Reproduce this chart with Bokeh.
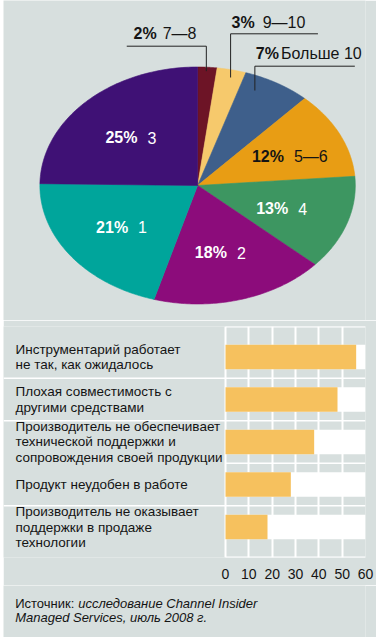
import numpy as np
from bokeh.plotting import figure
from bokeh.layouts import column, row
from bokeh.models import Range1d, FixedTicker, Spacer
from bokeh.core.properties import value
from bokeh.embed import file_html
from bokeh.resources import INLINE

# ---------------- data ----------------
# pie slices, clockwise from 12 o'clock
pie_groups = ["7—8", "9—10", "Больше 10", "5—6", "4", "2", "1", "3"]
pie_shares = [2, 3, 7, 12, 13, 18, 21, 25]
pie_colors = ["#6d1426", "#f6c96c", "#3e5f8b", "#e89d14",
              "#3d9661", "#8c0c7b", "#00a59b", "#3f1175"]

bar_reasons = [
    "Инструментарий работает\nне так, как ожидалось",
    "Плохая совместимость с\nдругими средствами",
    "Производитель не обеспечивает\nтехнической поддержки и\nсопровождения своей продукции",
    "Продукт неудобен в работе",
    "Производитель не оказывает\nподдержки в продаже\nтехнологии",
]
bar_values = [56, 48, 38, 28, 18]
bar_ticks = [0, 10, 20, 30, 40, 50, 60]

source_plain = "Источник:"
source_italic = ["исследование Channel Insider", "Managed Services, июль 2008 г."]

# ---------------- style / layout ----------------
BG = "#d7dfde"
FONT = value("Liberation Sans")
TXT = "#141414"
LEFT = 3                   # white strip at the left
W = 376 - LEFT             # figures width

# ---------------- pie ----------------
PIE_H = 320
CX, CY = 203.0, 185.0      # centre (page px)
RX, RY = 162.5, 118.5      # radii (px)

pie = figure(width=W, height=PIE_H, output_backend="svg", toolbar_location=None,
             x_axis_location=None, y_axis_location=None, title=None,
             x_range=Range1d(-(CX - LEFT) / RX, (LEFT + W - CX) / RX),
             y_range=Range1d(-(PIE_H - CY) / RY, CY / RY),
             min_border=0, background_fill_color=BG, border_fill_color=BG,
             outline_line_color=None)
pie.grid.visible = False

total = float(sum(pie_shares))
cum = np.concatenate([[0.0], np.cumsum(pie_shares)])
xs, ys, mids = [], [], []
for i in range(len(pie_shares)):
    a = np.linspace(2 * np.pi * cum[i] / total, 2 * np.pi * cum[i + 1] / total, 80)
    xs.append([0.0] + list(np.sin(a)))
    ys.append([0.0] + list(np.cos(a)))
    mids.append(np.pi * (cum[i] + cum[i + 1]) / total)
pie.patches(xs, ys, fill_color=pie_colors, line_color=pie_colors, line_width=0.6)

def fx(px):
    return (px - CX) / RX

def fy(py):
    return (CY - py) / RY

pct_text = [f"{v}%" for v in pie_shares]

# inner labels
inner = list(range(3, len(pie_shares)))
r_lab = 0.58
ax = [r_lab * np.sin(mids[i]) for i in inner]
ay = [r_lab * np.cos(mids[i]) for i in inner]
inner_col = [TXT if i == 3 else "white" for i in inner]
pie.text(x=ax, y=ay, text=[pct_text[i] for i in inner], text_align="right",
         text_baseline="middle", x_offset=4, y_offset=1, text_font=FONT,
         text_font_style="bold", text_font_size="16px", text_color=inner_col)
pie.text(x=ax, y=ay, text=[pie_groups[i] for i in inner], text_align="left",
         text_baseline="middle", x_offset=14, y_offset=1, text_font=FONT,
         text_font_size="16px", text_color=inner_col)

# outside callouts for the three small slices (layout in page px)
callouts = {
    0: dict(pct=(137, 33), num=(167, 33), lead=[(130, 45.7), (212, 45.7), (212, 70.7)]),
    1: dict(pct=(238, 22), num=(270, 22), lead=[(327, 33.3), (237, 33.3), (237, 77)]),
    2: dict(pct=(263, 53), num=(289, 53), lead=[(365, 65.7), (262, 65.7), (262, 90)]),
}
for i, c in callouts.items():
    pie.text(x=[fx(c["pct"][0])], y=[fy(c["pct"][1])], text=[pct_text[i]],
             text_align="left", text_baseline="middle", text_font=FONT,
             text_font_style="bold", text_font_size="16px", text_color=TXT)
    pie.text(x=[fx(c["num"][0])], y=[fy(c["num"][1])], text=[pie_groups[i]],
             text_align="left", text_baseline="middle", text_font=FONT,
             text_font_size="16px", text_color=TXT)
    pie.line([fx(p[0]) for p in c["lead"]], [fy(p[1]) for p in c["lead"]],
             line_color="#222222", line_width=1)

# ---------------- bars ----------------
BAR_H = 265
TOP, BOT = 6, 237              # frame top / bottom (px inside the figure)
PX0, PX60 = 225.0 - LEFT, 365.0 - LEFT   # px of 0 and of the max tick
ppu = (PX60 - PX0) / (max(bar_ticks) - min(bar_ticks))
x_start = -PX0 / ppu
row_px = 42.55
n = len(bar_values)
pad = ((BOT - TOP) / row_px - n) / 2.0
rows = list(range(n))

bar = figure(width=W, height=BAR_H, output_backend="svg", toolbar_location=None,
             y_axis_location=None, title=None,
             x_range=Range1d(x_start, max(bar_ticks)),
             y_range=Range1d(n - 0.5 + pad, -0.5 - pad),
             min_border_left=0, min_border_right=int(W - PX60),
             min_border_top=TOP, min_border_bottom=BAR_H - BOT,
             background_fill_color=BG, border_fill_color=BG, outline_line_color=None)
bar.ygrid.visible = False
bar.xgrid.ticker = FixedTicker(ticks=bar_ticks)
bar.xgrid.grid_line_color = "white"
bar.xgrid.grid_line_width = 2
bar.xaxis.ticker = FixedTicker(ticks=bar_ticks)
bar.xaxis.axis_line_color = None
bar.xaxis.major_tick_line_color = None
bar.xaxis.minor_tick_line_color = None
bar.xaxis.major_label_standoff = 5
bar.xaxis.major_label_text_font = "Liberation Sans"
bar.xaxis.major_label_text_font_size = "14px"
bar.xaxis.major_label_text_color = TXT

bh = 24.5 / row_px
y_lo, y_hi = -0.5 - pad, n - 0.5 + pad
# frame border top/bottom
bar.segment(x0=[min(bar_ticks)] * 2, x1=[max(bar_ticks)] * 2, y0=[y_lo, y_hi],
            y1=[y_lo, y_hi], line_color="white", line_width=2)
# separators between rows
mid_rows = [r + 0.5 for r in rows[:-1]]
extend_left = [True, True, False, True]
bar.segment(x0=[x_start if e else min(bar_ticks) for e in extend_left],
            x1=[max(bar_ticks)] * len(mid_rows), y0=mid_rows, y1=mid_rows,
            line_color="white", line_width=1.5)
# row backgrounds and bars
bar.hbar(y=rows, left=min(bar_ticks), right=max(bar_ticks), height=bh,
         fill_color="white", line_color=None)
bar.hbar(y=rows, left=0, right=bar_values, height=bh,
         fill_color="#f6c15e", line_color=None)
bar.text(x=[x_start + (15 - LEFT) / ppu] * n, y=rows, text=bar_reasons,
         text_align="left", text_baseline="middle", text_font=FONT,
         text_font_size="13.5px", text_color=TXT, text_line_height=1.03)

# ---------------- source ----------------
SRC_H = 52
src = figure(width=W, height=SRC_H, output_backend="svg", toolbar_location=None,
             x_axis_location=None, y_axis_location=None, title=None,
             x_range=Range1d(LEFT, LEFT + W), y_range=Range1d(SRC_H, 0), min_border=0,
             background_fill_color=BG, border_fill_color=BG, outline_line_color=None)
src.grid.visible = False
src.text(x=[15], y=[18], text=[source_plain], text_align="left", text_baseline="middle",
         text_font=FONT, text_font_size="13px", text_color=TXT)
src.text(x=[80, 15], y=[18, 32], text=source_italic, text_align="left",
         text_baseline="middle", text_font=FONT, text_font_style="italic",
         text_font_size="13px", text_color=TXT)

layout = row(Spacer(width=LEFT, height=PIE_H + BAR_H + SRC_H),
             column(pie, bar, src, spacing=0), spacing=0)
open("out.html", "w").write(file_html(layout, INLINE))
